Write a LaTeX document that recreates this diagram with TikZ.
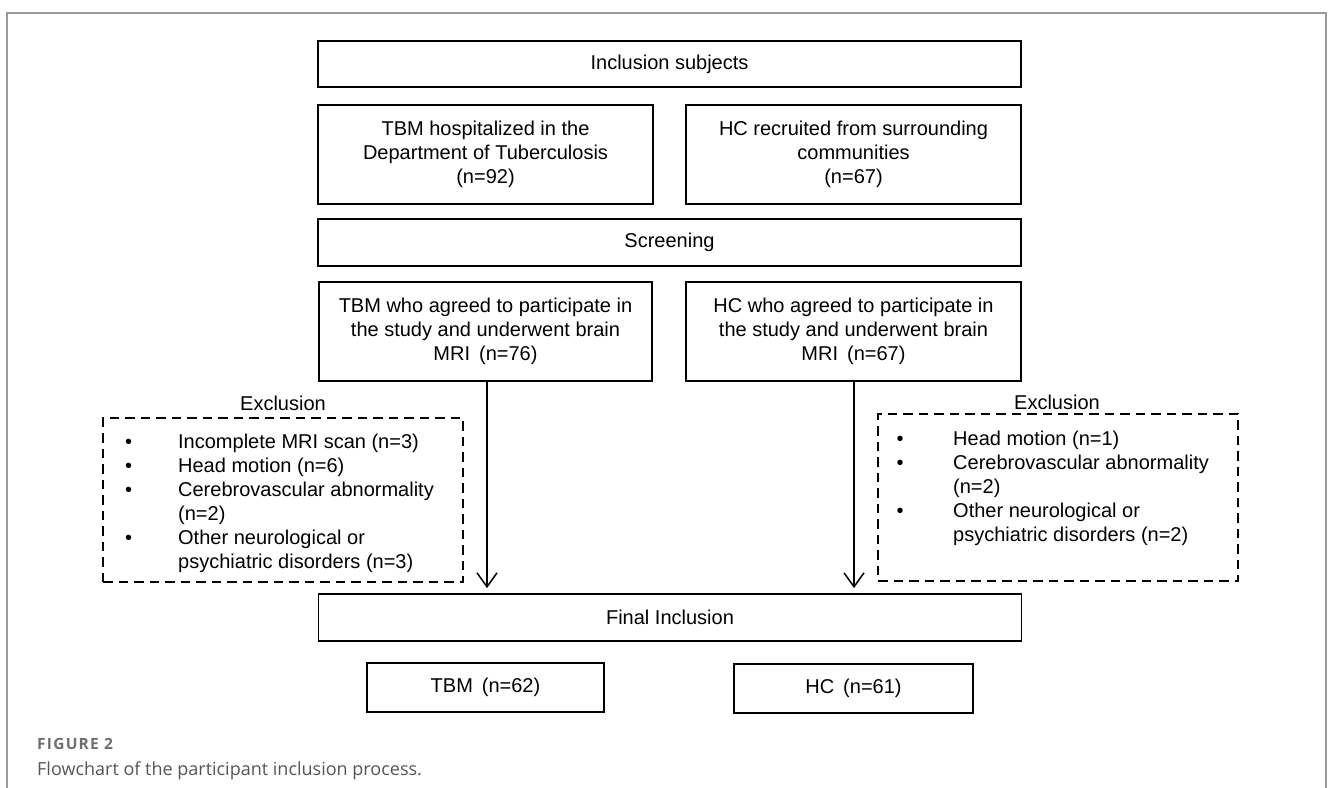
\documentclass[tikz,border=0pt]{standalone}
\usepackage{fontspec}
\setmainfont{Liberation Sans}
\newfontfamily\capfont{Open Sans}
\newfontfamily\figfont[LetterSpace=8]{Open Sans}
\usetikzlibrary{arrows.meta}
\definecolor{framegray}{HTML}{9A9A9A}
\definecolor{figgray}{HTML}{6E6E6E}
\definecolor{capgray}{HTML}{555555}
\tikzset{
  boxtext/.style={font=\fontsize{20}{24}\selectfont},
  solidbox/.style={draw=black, line width=1.8pt, rectangle, inner sep=0pt, align=center, boxtext},
  dashbox/.style={draw=black, line width=1.7pt, rectangle, inner sep=0pt, dash pattern=on 9.5pt off 6pt},
  listtext/.style={inner sep=0pt, boxtext},
  arr/.style={draw=black, line width=1.5pt, -{Straight Barb[length=14pt,width=20pt,line width=1.5pt]}, shorten >=5pt},
}
\begin{document}
\begin{tikzpicture}[x=1pt,y=-1pt]
\useasboundingbox (0,0) rectangle (1333,787);
% outer frame
\draw[framegray, line width=1.4pt] (7,800) -- (7,13) -- (1326,13) -- (1326,800);

\node[solidbox, minimum width=703pt, minimum height=46pt] (incl) at (669.5,64) {Inclusion subjects};
\node[solidbox, minimum width=335pt, minimum height=99pt] (tbmh) at (485.5,154.5) {TBM hospitalized in the\\Department of Tuberculosis\\(n=92)};
\node[solidbox, minimum width=335pt, minimum height=99pt] (hch) at (853.5,154.5) {HC recruited from surrounding\\communities\\(n=67)};
\node[solidbox, minimum width=703pt, minimum height=47pt] (scr) at (669.5,242.5) {Screening};
\node[solidbox, minimum width=333pt, minimum height=99pt] (tbma) at (485.5,331.5) {TBM who agreed to participate in\\the study and underwent brain\\MRI\hspace{0.45em}(n=76)};
\node[solidbox, minimum width=335pt, minimum height=99pt] (hca) at (853.5,331.5) {HC who agreed to participate in\\the study and underwent brain\\MRI\hspace{0.45em}(n=67)};

\node[dashbox, minimum width=360pt, minimum height=164pt] (exl) at (283,500) {};
\node[dashbox, minimum width=360pt, minimum height=167pt] (exr) at (1058,497.5) {};
\node[listtext] (exlt) at (283,403) {Exclusion};
\node[listtext] (exrt) at (1057,402) {Exclusion};

\node[listtext, anchor=base west] (exll) at (125,448) {\begin{tabular}[t]{@{}p{53pt}@{}l@{}}
•&Incomplete MRI scan (n=3)\\
•&Head motion (n=6)\\
•&Cerebrovascular abnormality\\
&(n=2)\\
•&Other neurological or\\
&psychiatric disorders (n=3)
\end{tabular}};
\node[listtext, anchor=base west] (exrl) at (896.5,445) {\begin{tabular}[t]{@{}p{56.5pt}@{}l@{}}
•&Head motion (n=1)\\
•&Cerebrovascular abnormality\\
&(n=2)\\
•&Other neurological or\\
&psychiatric disorders (n=2)
\end{tabular}};

\node[solidbox, minimum width=703pt, minimum height=47pt] (fin) at (670,617.5) {Final Inclusion};
\node[solidbox, minimum width=237pt, minimum height=49pt] (tbmf) at (485.5,687.5) {TBM\hspace{0.45em}(n=62)};
\node[solidbox, minimum width=239pt, minimum height=49pt] (hcf) at (853.5,688.5) {HC\hspace{0.45em}(n=61)};

\draw[arr] ([xshift=1.5pt]tbma.south) -- ([xshift=1.5pt]tbma.south |- fin.north);
\draw[arr] ([xshift=0.5pt]hca.south) -- ([xshift=0.5pt]hca.south |- fin.north);

\node[anchor=west, inner sep=0pt, font=\figfont\bfseries\fontsize{15.5}{18}\selectfont, text=figgray] (fig) at (37,744) {FIGURE 2};
\node[anchor=west, inner sep=0pt, font=\capfont\fontsize{18}{22}\selectfont, text=capgray] (cap) at (37,771) {Flowchart of the participant inclusion process.};
\end{tikzpicture}
\end{document}
